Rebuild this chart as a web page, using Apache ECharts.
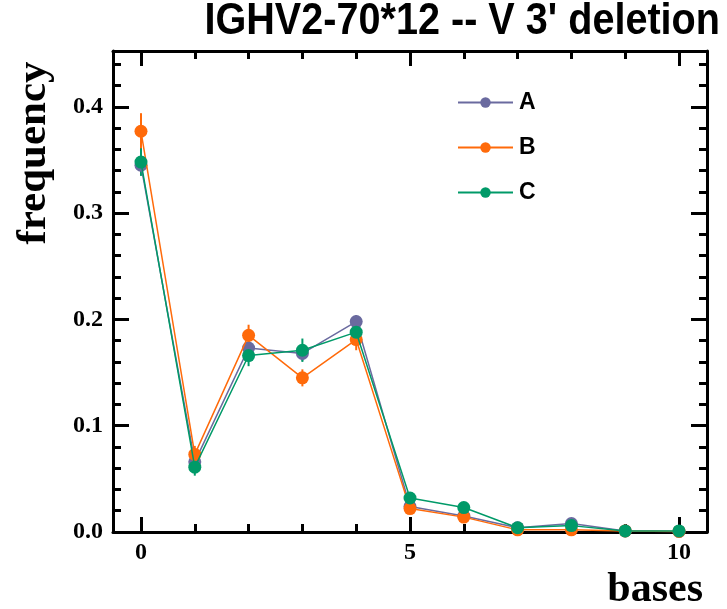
<!DOCTYPE html>
<html>
<head>
<meta charset="utf-8">
<script src="https://cdn.jsdelivr.net/npm/echarts@6/dist/echarts.min.js"></script>
<style>
  html, body { margin: 0; padding: 0; background: #fff; }
  #chart { width: 727px; height: 609px; }
</style>
</head>
<body>
<div id="chart"></div>
<script>
// Deletion lengths (bases) and the frequency of each, per sample
const bases = [0, 1, 2, 3, 4, 5, 6, 7, 8, 9, 10];
const seriesNames = ['A', 'B', 'C'];
const freqA = [0.345, 0.066, 0.173, 0.168, 0.198, 0.024, 0.015, 0.004, 0.008, 0.001, 0.0005];
const freqB = [0.377, 0.073, 0.185, 0.145, 0.181, 0.022, 0.014, 0.002, 0.002, 0.001, 0.0005];
const freqC = [0.348, 0.061, 0.166, 0.171, 0.188, 0.032, 0.023, 0.004, 0.006, 0.001, 0.001];
// Standard errors drawn as vertical bars
const errA = [0.008, 0.006, 0.007, 0.007, 0.006, 0.003, 0.003, 0.001, 0.002, 0.0005, 0.0005];
const errB = [0.017, 0.008, 0.010, 0.008, 0.010, 0.003, 0.003, 0.001, 0.001, 0.0005, 0.0005];
const errC = [0.013, 0.008, 0.010, 0.011, 0.008, 0.004, 0.004, 0.001, 0.002, 0.0005, 0.0005];
// Tick positions
const xMajorTicks = [0, 5, 10];
const xMinorTicks = [1, 2, 3, 4, 6, 7, 8, 9];
const yMajorTicks = [0, 0.1, 0.2, 0.3, 0.4];
const yMinorTicks = [0.02, 0.04, 0.06, 0.08, 0.12, 0.14, 0.16, 0.18, 0.22, 0.24, 0.26, 0.28,
                     0.32, 0.34, 0.36, 0.38, 0.42, 0.44];
const chartTitle = "IGHV2-70*12 -- V 3' deletion";

const colors = ['#6a6a9f', '#ff6a0a', '#009a68'];
const values = [freqA, freqB, freqC];
const errors = [errA, errB, errC];

const X_MIN = -0.52, X_MAX = 10.52, Y_MIN = 0, Y_MAX = 0.4525;
const serif = '"Liberation Serif", "DejaVu Serif", serif';
const sans = '"Liberation Sans", Arial, sans-serif';

function xAx(position, tickValues, tickLen, showLine, showLabel) {
  return {
    type: 'value', position: position, min: X_MIN, max: X_MAX,
    axisLine: { show: showLine, onZero: false, lineStyle: { color: '#000', width: 3 } },
    axisTick: { show: true, inside: true, length: tickLen, customValues: tickValues,
                lineStyle: { color: '#000', width: 3 } },
    axisLabel: showLabel ? { show: true, customValues: tickValues, margin: 9,
                 fontFamily: serif, fontWeight: 'bold', fontSize: 24, color: '#000' }
               : { show: false },
    splitLine: { show: false }
  };
}
function yAx(position, tickValues, tickLen, showLine, showLabel) {
  return {
    type: 'value', position: position, min: Y_MIN, max: Y_MAX,
    axisLine: { show: showLine, onZero: false, lineStyle: { color: '#000', width: 3 } },
    axisTick: { show: true, inside: true, length: tickLen, customValues: tickValues,
                lineStyle: { color: '#000', width: 3 } },
    axisLabel: showLabel ? { show: true, customValues: tickValues, margin: 10,
                 formatter: v => v.toFixed(1),
                 fontFamily: serif, fontWeight: 'bold', fontSize: 24, color: '#000' }
               : { show: false },
    splitLine: { show: false }
  };
}

const lineSeries = seriesNames.map((name, i) => ({
  name: name,
  type: 'line',
  xAxisIndex: 0, yAxisIndex: 0,
  data: bases.map((b, k) => [b, values[i][k]]),
  symbol: 'circle',
  symbolSize: 13,
  lineStyle: { color: colors[i], width: 1.5 },
  itemStyle: { color: colors[i] },
  z: 3 + i
}));

const errorSeries = seriesNames.map((name, i) => ({
  name: name + ' error',
  type: 'custom',
  xAxisIndex: 0, yAxisIndex: 0,
  data: bases.map((b, k) => [b, values[i][k] - errors[i][k], values[i][k] + errors[i][k]]),
  renderItem: function (params, api) {
    const lo = api.coord([api.value(0), api.value(1)]);
    const hi = api.coord([api.value(0), api.value(2)]);
    return {
      type: 'line',
      shape: { x1: lo[0], y1: lo[1], x2: hi[0], y2: hi[1] },
      style: { stroke: colors[i], lineWidth: 2 }
    };
  },
  z: 2,
  silent: true
}));

const option = {
  backgroundColor: '#fff',
  animation: false,
  grid: { left: 113, right: 20, top: 51, bottom: 77, containLabel: false },
  legend: {
    data: seriesNames,
    orient: 'vertical',
    left: 452, top: 86,
    itemWidth: 55, itemHeight: 13,
    itemGap: 22,
    textStyle: { fontFamily: sans, fontWeight: 'bold', fontSize: 23, color: '#000', padding: [0, 0, 0, 1] }
  },
  xAxis: [
    xAx('bottom', xMajorTicks, 15, true, true),
    xAx('bottom', xMinorTicks, 8, false, false),
    xAx('top', xMajorTicks, 15, true, false),
    xAx('top', xMinorTicks, 8, false, false)
  ],
  yAxis: [
    yAx('left', yMajorTicks, 16, true, true),
    yAx('left', yMinorTicks, 8, false, false),
    yAx('right', yMajorTicks, 16, true, false),
    yAx('right', yMinorTicks, 8, false, false)
  ],
  graphic: [
    {
      // condensed bold heading, right-aligned to the page edge
      type: 'text', x: 720, y: 22, scaleX: 0.88,
      style: { text: chartTitle, fontFamily: sans, fontWeight: 'bold', fontSize: 45,
               fill: '#000', align: 'right', verticalAlign: 'middle' }
    },
    {
      type: 'text', x: 34, y: 153, rotation: Math.PI / 2,
      style: { text: 'frequency', fontFamily: serif, fontWeight: 'bold', fontSize: 43,
               fill: '#000', align: 'center', verticalAlign: 'middle' }
    },
    {
      type: 'text', x: 703, y: 590,
      style: { text: 'bases', fontFamily: serif, fontWeight: 'bold', fontSize: 42,
               fill: '#000', align: 'right', verticalAlign: 'middle' }
    }
  ],
  series: errorSeries.concat(lineSeries)
};

const chart = echarts.init(document.getElementById('chart'), null, { renderer: 'canvas' });
chart.setOption(option);
</script>
</body>
</html>
